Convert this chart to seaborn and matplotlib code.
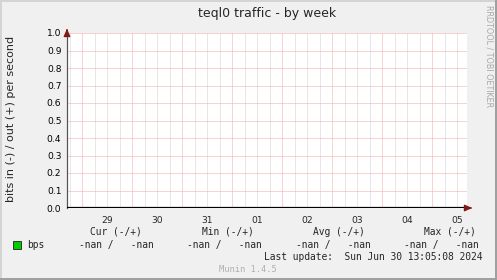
import numpy as np
import pandas as pd
import matplotlib
matplotlib.use("Agg")
import matplotlib.pyplot as plt
import seaborn as sns
from matplotlib.patches import Rectangle

# ---- data ----
day_labels = ["29", "30", "31", "01", "02", "03", "04", "05"]
day_midnights = [0, 1, 2, 3, 4, 5, 6, 7]          # day boundaries (day units)
bps_time = [0.0, 1.0, 2.0, 3.0, 4.0, 5.0, 6.0, 7.0]
bps_values = [np.nan, np.nan, np.nan, np.nan, np.nan, np.nan, np.nan, np.nan]
y_ticks = [0.0, 0.1, 0.2, 0.3, 0.4, 0.5, 0.6, 0.7, 0.8, 0.9, 1.0]
legend_headers = ["Cur (-/+)", "Min (-/+)", "Avg (-/+)", "Max (-/+)"]
legend_values = ["-nan /   -nan", "-nan /   -nan", "-nan /   -nan", "-nan /   -nan"]
series_name = "bps"
title = "teql0 traffic - by week"
ylabel = "bits in (-) / out (+) per second"
last_update = "Last update:  Sun Jun 30 13:05:08 2024"
footer = "Munin 1.4.5"
side_text = "RRDTOOL / TOBI OETIKER"

sns.set_style("white")
plt.rcParams["font.family"] = ["DejaVu Sans"]

W, H = 497, 280
fig = plt.figure(figsize=(W / 100, H / 100), dpi=100)
fig.patch.set_facecolor("#f0f0f0")

def fx(px):
    return px / W

def fy(py):
    return 1 - py / H

# borders
fig.add_artist(Rectangle((0, fy(2)), 1, 2 / H, transform=fig.transFigure, color="#d4d4d4", lw=0))
fig.add_artist(Rectangle((0, 0), 2 / W, 1, transform=fig.transFigure, color="#d4d4d4", lw=0))
fig.add_artist(Rectangle((0, 0), 1, 2 / H, transform=fig.transFigure, color="#a0a0a0", lw=0))
fig.add_artist(Rectangle((fx(495), 0), 2 / W, 1, transform=fig.transFigure, color="#a0a0a0", lw=0))

x0, x1 = 67, 467
ytop, ybot = 33, 208
ax = fig.add_axes([fx(x0), fy(ybot), (x1 - x0) / W, (ybot - ytop) / H])
ax.set_facecolor("white")

df = pd.DataFrame({"t": bps_time, "v": bps_values})
sns.lineplot(data=df, x="t", y="v", ax=ax, color="#00cc00", legend=False)

xmin, xmax = -0.3, 7.7
ax.set_xlim(xmin, xmax)
ax.set_ylim(0, 1.0)

dot = (0, (1, 1))
# minor vertical grid every 6h
for d in np.arange(-0.25, 7.76, 0.25):
    if xmin < d < xmax and abs(d - round(d)) > 1e-6:
        ax.axvline(d, color="#d0d0d0", lw=0.72, ls=dot, zorder=1)
for d in day_midnights:
    ax.axvline(d, color="#f4a8a8", lw=0.72, ls=dot, zorder=1.5)
for yv in y_ticks:
    ax.axhline(yv, color="#f4a8a8", lw=0.72, ls=dot, zorder=1.5)

ax.axhline(0, color="black", lw=1.6, zorder=3)

for s in ["top", "right", "bottom"]:
    ax.spines[s].set_visible(False)
ax.spines["left"].set_color("#555555")
ax.spines["left"].set_linewidth(0.9)

ax.set_yticks(y_ticks)
ax.set_yticklabels([f"{v:.1f}" for v in y_ticks], fontsize=6.6, color="black")
ax.tick_params(axis="y", length=2, width=0.7, color="#555555", pad=2)
ax.set_xticks(day_midnights)
ax.set_xticklabels([])
ax.tick_params(axis="x", length=2, width=0.7, color="#e08080", direction="out")
ax.set_xlabel("")
ax.set_ylabel("")

for i, lab in enumerate(day_labels):
    ax.text(day_midnights[i] + 0.5, -0.045, lab, transform=ax.get_xaxis_transform(),
            ha="center", va="top", fontsize=6.6)

# arrows
arrow_col = "#7f1a1a"
ax.annotate("", xy=(fx(475), fy(208)), xytext=(fx(467), fy(208)), xycoords="figure fraction",
            arrowprops=dict(arrowstyle="-|>,head_length=0.45,head_width=0.2", color=arrow_col, lw=0.9))
ax.annotate("", xy=(fx(67), fy(26)), xytext=(fx(67), fy(33)), xycoords="figure fraction",
            arrowprops=dict(arrowstyle="-|>,head_length=0.45,head_width=0.2", color=arrow_col, lw=0.9))

fig.text(fx(267), fy(14), title, ha="center", va="center", fontsize=9)
fig.text(fx(11), fy(119), ylabel, ha="center", va="center", rotation=90, fontsize=8)
fig.text(fx(489), fy(5), side_text, ha="center", va="top", rotation=270, fontsize=5.8, color="#a8a8a8")

mono = "DejaVu Sans Mono"
fs = 6.9
header_centers = [116, 228, 339, 450]
value_lefts = [79, 187, 296, 404]
for c, h in zip(header_centers, legend_headers):
    fig.text(fx(c), fy(232), h, ha="center", va="center", family=mono, fontsize=fs)
for l, v in zip(value_lefts, legend_values):
    fig.text(fx(l), fy(245), v, ha="left", va="center", family=mono, fontsize=fs)

fig.add_artist(Rectangle((fx(13), fy(249)), 8 / W, 8 / H, transform=fig.transFigure,
                         facecolor="#00cc00", edgecolor="#222222", lw=0.6))
fig.text(fx(27), fy(245), series_name, ha="left", va="center", family=mono, fontsize=fs)
fig.text(fx(483), fy(257), last_update, ha="right", va="center", family=mono, fontsize=fs)
fig.text(fx(248), fy(269), footer, ha="center", va="center", family=mono, fontsize=6.3, color="#b0b0b0")

fig.savefig("out.png", dpi=100, facecolor=fig.get_facecolor())
